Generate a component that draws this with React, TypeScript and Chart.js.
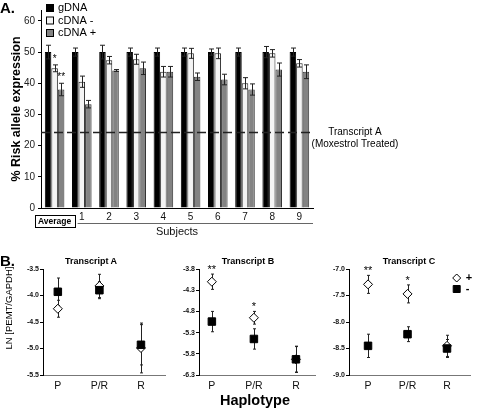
import React, { useEffect, useRef } from "react";
import { Chart, registerables } from "chart.js";

Chart.register(...registerables);

const FONT = "'Liberation Sans', Arial, Helvetica, sans-serif";

// ---------------- Panel A : allele expression bars ----------------
const subjects = ["Average", "1", "2", "3", "4", "5", "6", "7", "8", "9"];
const seriesNames = ["gDNA", "cDNA -", "cDNA +"];
const gDNA = [50, 50, 50, 50, 50, 50, 50, 50, 50, 50];
const gDNAErr = [2.2, 1.3, 2.2, 1.3, 1.3, 1.3, 1.0, 1.3, 1.8, 1.3];
const cDNAMinus = [44.8, 40.5, 47.4, 47.7, 43.7, 49.6, 49.6, 40.0, 49.6, 46.4];
const cDNAMinusErr = [1.1, 1.8, 1.2, 1.6, 1.7, 1.6, 1.7, 1.8, 1.2, 1.2];
const cDNAPlus = [38.0, 33.3, 44.1, 44.8, 43.7, 42.1, 41.2, 38.0, 44.4, 43.7];
const cDNAPlusErr = [2.0, 1.2, 0.3, 2.0, 1.7, 1.2, 1.7, 1.8, 2.1, 2.2];
const starsMinus = ["*", "", "", "", "", "", "", "", "", ""];
const starsPlus = ["**", "", "", "", "", "", "", "", "", ""];
const pctTicks = [0, 10, 20, 30, 40, 50, 60];
const pctMax = 63.5;
const transcriptALevel = 24.5;
const refLineLabels = ["Transcript A", "(Moxestrol Treated)"];

// ---------------- Panel B : LN[PEMT/GAPDH] by haplotype ----------------
const haplotypes = ["P", "P/R", "R"];
const legendB = ["+", "-"];
// Transcript A
const aPlus = [-4.25, -3.82, -4.99];
const aPlusErr = [0.16, 0.22, 0.47];
const aMinus = [-3.93, -3.9, -4.93];
const aMinusErr = [0.26, 0.16, 0.38];
const aTicks = [-5.5, -5.0, -4.5, -4.0, -3.5];
const aStars = ["", "", ""];
// Transcript B
const bPlus = [-4.1, -4.95, -5.93];
const bPlusErr = [0.18, 0.15, 0.3];
const bMinus = [-5.04, -5.45, -5.93];
const bMinusErr = [0.24, 0.24, 0.31];
const bTicks = [-6.3, -5.8, -5.3, -4.8, -4.3, -3.8];
const bStars = ["**", "*", ""];
// Transcript C
const cPlus = [-7.29, -7.47, -8.45];
const cPlusErr = [0.17, 0.17, 0.2];
const cMinus = [-8.45, -8.23, -8.5];
const cMinusErr = [0.22, 0.14, 0.17];
const cTicks = [-9.0, -8.5, -8.0, -7.5, -7.0];
const cStars = ["**", "*", ""];

// ---------------- plugins ----------------
function valueOf(raw: any) {
  return typeof raw === "number" ? raw : raw.y;
}

function drawErrorBars(chart: any, o: any) {
  const { ctx } = chart;
  const ys = chart.scales.y;
  ctx.save();
  ctx.strokeStyle = o.color;
  ctx.lineWidth = o.width;
  chart.data.datasets.forEach((ds: any, i: number) => {
    if (!ds.errors) return;
    const meta = chart.getDatasetMeta(i);
    meta.data.forEach((el: any, j: number) => {
      const v = valueOf(ds.data[j]);
      const e = ds.errors[j];
      if (!e) return;
      const x = Math.round(el.x) + 0.5;
      const y1 = ys.getPixelForValue(v + e);
      const y2 = ys.getPixelForValue(v - e);
      ctx.beginPath();
      ctx.moveTo(x, y1);
      ctx.lineTo(x, y2);
      ctx.moveTo(x - o.cap, y1);
      ctx.lineTo(x + o.cap, y1);
      ctx.moveTo(x - o.cap, y2);
      ctx.lineTo(x + o.cap, y2);
      ctx.stroke();
    });
  });
  ctx.restore();
}

function drawStars(chart: any, o: any) {
  const { ctx } = chart;
  const ys = chart.scales.y;
  ctx.save();
  ctx.fillStyle = "#000";
  ctx.font = `${o.starSize || 10}px ${FONT}`;
  ctx.textAlign = "center";
  ctx.textBaseline = "middle";
  chart.data.datasets.forEach((ds: any, i: number) => {
    if (!ds.stars) return;
    const meta = chart.getDatasetMeta(i);
    meta.data.forEach((el: any, j: number) => {
      const s = ds.stars[j];
      if (!s) return;
      const v = valueOf(ds.data[j]);
      const e = ds.errors ? ds.errors[j] : 0;
      const y = ys.getPixelForValue(v + e) - (o.starGap || 5);
      ctx.fillText(s, el.x, y);
    });
  });
  ctx.restore();
}

const errorBarsPlugin = {
  id: "errorBars",
  beforeDatasetsDraw(chart: any, _a: any, o: any) {
    if (o.phase === "before") drawErrorBars(chart, o);
  },
  afterDatasetsDraw(chart: any, _a: any, o: any) {
    if (o.phase !== "before") drawErrorBars(chart, o);
    drawStars(chart, o);
  },
};

const barExtrasPlugin = {
  id: "barExtras",
  afterDatasetsDraw(chart: any) {
    const { ctx, chartArea } = chart;
    const ys = chart.scales.y;
    const xs = chart.scales.x;
    // reference line
    const ly = Math.round(ys.getPixelForValue(transcriptALevel)) + 0.5;
    ctx.save();
    ctx.strokeStyle = "#222";
    ctx.lineWidth = 1.5;
    ctx.setLineDash([9, 4]);
    ctx.beginPath();
    ctx.moveTo(chartArea.left, ly);
    ctx.lineTo(chartArea.right, ly);
    ctx.stroke();
    ctx.setLineDash([]);
    ctx.fillStyle = "#000";
    ctx.font = `10px ${FONT}`;
    ctx.textAlign = "center";
    ctx.textBaseline = "middle";
    const tx = chartArea.right + 42;
    ctx.fillText(refLineLabels[0], tx, ly);
    ctx.fillText(refLineLabels[1], tx, ly + 12);
    // legend
    chart.data.datasets.forEach((ds: any, i: number) => {
      const y = 4 + i * 12.5;
      ctx.fillStyle = ds.backgroundColor;
      ctx.fillRect(46, y, 7, 7);
      ctx.strokeStyle = "#000";
      ctx.lineWidth = 1;
      ctx.strokeRect(46.5, y + 0.5, 7, 7);
      ctx.fillStyle = "#000";
      ctx.font = `11px ${FONT}`;
      ctx.textAlign = "left";
      ctx.fillText(ds.label, 58, y + 4);
    });
    // "Average" box and subjects underline
    const ax = xs.getPixelForTick(0);
    const by = chartArea.bottom + 7;
    ctx.font = `bold 8.5px ${FONT}`;
    ctx.textAlign = "center";
    ctx.fillText(subjects[0], ax, by + 6.5);
    ctx.strokeStyle = "#000";
    ctx.lineWidth = 1;
    ctx.strokeRect(Math.round(ax - 20) + 0.5, by + 0.5, 40, 12);
    ctx.strokeStyle = "#666";
    ctx.beginPath();
    ctx.moveTo(ax + 23, by + 8.5);
    ctx.lineTo(chartArea.right, by + 8.5);
    ctx.stroke();
    ctx.restore();
  },
};

const scatterLegendPlugin = {
  id: "scatterLegend",
  afterDraw(chart: any, _a: any, o: any) {
    if (!o || !o.show) return;
    const { ctx, chartArea } = chart;
    const x = chartArea.right - 14;
    ctx.save();
    chart.data.datasets.forEach((ds: any, i: number) => {
      const y = chartArea.top + 9 + i * 11;
      ctx.beginPath();
      if (ds.pointStyle === "rectRot") {
        ctx.moveTo(x, y - 4);
        ctx.lineTo(x + 4, y);
        ctx.lineTo(x, y + 4);
        ctx.lineTo(x - 4, y);
        ctx.closePath();
      } else {
        ctx.rect(x - 3.5, y - 3.5, 7, 7);
      }
      ctx.fillStyle = ds.backgroundColor;
      ctx.fill();
      ctx.strokeStyle = "#000";
      ctx.lineWidth = 1;
      ctx.stroke();
      ctx.fillStyle = "#000";
      ctx.font = `bold 11px ${FONT}`;
      ctx.textAlign = "left";
      ctx.textBaseline = "middle";
      ctx.fillText(ds.label, x + 9, y);
    });
    ctx.restore();
  },
};

// ---------------- configs ----------------
function makeBarConfig(): any {
  return {
    type: "bar",
    data: {
      labels: subjects,
      datasets: [
        { label: seriesNames[0], data: gDNA, errors: gDNAErr, backgroundColor: "#000", borderColor: "#000", borderWidth: 1 },
        { label: seriesNames[1], data: cDNAMinus, errors: cDNAMinusErr, stars: starsMinus, backgroundColor: "#f4f4f4", borderColor: "#222", borderWidth: 1 },
        { label: seriesNames[2], data: cDNAPlus, errors: cDNAPlusErr, stars: starsPlus, backgroundColor: "#838383", borderColor: "#333", borderWidth: 1 },
      ],
    },
    plugins: [errorBarsPlugin, barExtrasPlugin],
    options: {
      animation: false,
      responsive: false,
      events: [],
      layout: { padding: { left: 5, top: 10, right: 164, bottom: 0 } },
      datasets: { bar: { categoryPercentage: 0.72, barPercentage: 1.0 } },
      plugins: {
        legend: { display: false },
        tooltip: { enabled: false },
        errorBars: { phase: "after", cap: 2.5, color: "#222", width: 1, starSize: 10, starGap: 6 },
      },
      scales: {
        x: {
          grid: { display: false, drawTicks: false },
          border: { display: true, color: "#000", width: 1 },
          ticks: {
            padding: 3,
            color: "#111",
            font: { family: FONT, size: 10 },
            callback: (_v: any, i: number) => (i === 0 ? "" : subjects[i]),
          },
          title: {
            display: true,
            text: "Subjects",
            color: "#111",
            font: { family: FONT, size: 11 },
            padding: { top: 0, bottom: 1 },
          },
          afterFit: (s: any) => {
            s.height = 32;
          },
        },
        y: {
          min: 0,
          max: pctMax,
          afterBuildTicks: (s: any) => {
            s.ticks = pctTicks.map((v) => ({ value: v }));
          },
          grid: { display: true, drawOnChartArea: false, drawTicks: true, tickLength: 3, color: "#000" },
          border: { display: true, color: "#000", width: 1 },
          ticks: { padding: 3, color: "#222", font: { family: FONT, size: 10 } },
          title: {
            display: true,
            text: "% Risk allele expression",
            color: "#000",
            font: { family: FONT, size: 12.5, weight: "bold" },
            padding: { top: 4, bottom: 0 },
          },
          afterFit: (s: any) => {
            s.width = 36;
          },
        },
      },
    },
  };
}

function makeScatterConfig(
  plus: number[],
  plusErr: number[],
  minus: number[],
  minusErr: number[],
  stars: string[],
  ticks: number[],
  xMin: number,
  xMax: number,
  yWidth: number,
  padRight: number,
  showLegend: boolean
): any {
  return {
    type: "scatter",
    data: {
      datasets: [
        {
          label: legendB[0],
          data: plus.map((v, i) => ({ x: i + 1, y: v })),
          errors: plusErr,
          stars,
          pointStyle: "rectRot",
          pointRadius: 4.5,
          backgroundColor: "#fff",
          borderColor: "#000",
          borderWidth: 1,
          order: 2,
        },
        {
          label: legendB[1],
          data: minus.map((v, i) => ({ x: i + 1, y: v })),
          errors: minusErr,
          pointStyle: "rect",
          pointRadius: 5.3,
          backgroundColor: "#000",
          borderColor: "#000",
          borderWidth: 1,
          order: 1,
        },
      ],
    },
    plugins: [errorBarsPlugin, scatterLegendPlugin],
    options: {
      animation: false,
      responsive: false,
      events: [],
      layout: { padding: { left: 0, top: 27, right: padRight, bottom: 0 } },
      plugins: {
        legend: { display: false },
        tooltip: { enabled: false },
        errorBars: { phase: "before", cap: 1.5, color: "#222", width: 1, starSize: 11, starGap: 4 },
        scatterLegend: { show: showLegend },
      },
      scales: {
        x: {
          type: "linear",
          min: xMin,
          max: xMax,
          afterBuildTicks: (s: any) => {
            s.ticks = haplotypes.map((_h, i) => ({ value: i + 1 }));
          },
          grid: { display: false, drawTicks: false },
          border: { display: true, color: "#777", width: 1 },
          ticks: {
            padding: 5,
            color: "#111",
            font: { family: FONT, size: 10.5 },
            callback: (v: any) => haplotypes[Math.round(v) - 1] ?? "",
          },
          afterFit: (s: any) => {
            s.height = 33;
          },
        },
        y: {
          min: ticks[0],
          max: ticks[ticks.length - 1],
          afterBuildTicks: (s: any) => {
            s.ticks = ticks.map((v) => ({ value: v }));
          },
          grid: { display: true, drawOnChartArea: false, drawTicks: true, tickLength: 3, color: "#000" },
          border: { display: true, color: "#000", width: 1 },
          ticks: {
            padding: 1,
            color: "#111",
            font: { family: FONT, size: 7, weight: "bold" },
            callback: (v: any) => Number(v).toFixed(1),
          },
          afterFit: (s: any) => {
            s.width = yWidth;
          },
        },
      },
    },
  };
}

// ---------------- components ----------------
function ChartBox(props: { make: () => any; left: number; top: number; width: number; height: number }) {
  const ref = useRef<HTMLCanvasElement>(null);
  useEffect(() => {
    const chart = new Chart(ref.current as HTMLCanvasElement, props.make());
    return () => chart.destroy();
  }, []);
  return (
    <canvas
      ref={ref}
      width={props.width}
      height={props.height}
      style={{ position: "absolute", left: props.left, top: props.top, width: props.width, height: props.height }}
    />
  );
}

function Txt(props: { x: number; y: number; size: number; bold?: boolean; rotate?: boolean; align?: string; children: any }) {
  const tx = props.align === "left" ? "0" : "-50%";
  return (
    <div
      style={{
        position: "absolute",
        left: props.x,
        top: props.y,
        transform: `translate(${tx}, -50%)${props.rotate ? " rotate(-90deg)" : ""}`,
        transformOrigin: props.rotate ? "50% 50%" : undefined,
        fontFamily: FONT,
        fontSize: props.size,
        fontWeight: props.bold ? "bold" : "normal",
        lineHeight: 1,
        whiteSpace: "nowrap",
        color: "#000",
      }}
    >
      {props.children}
    </div>
  );
}

export default function App() {
  return (
    <div
      style={{
        position: "fixed",
        left: 0,
        top: 0,
        width: 477,
        height: 408,
        background: "#fff",
        overflow: "hidden",
      }}
    >
      <ChartBox make={makeBarConfig} left={0} top={0} width={477} height={240} />
      <ChartBox
        make={() => makeScatterConfig(aPlus, aPlusErr, aMinus, aMinusErr, aStars, aTicks, 0.643, 3.595, 43, 5, false)}
        left={0}
        top={242}
        width={172}
        height={166}
      />
      <ChartBox
        make={() => makeScatterConfig(bPlus, bPlusErr, bMinus, bMinusErr, bStars, bTicks, 0.694, 3.47, 27, 5, false)}
        left={172}
        top={242}
        width={150}
        height={166}
      />
      <ChartBox
        make={() => makeScatterConfig(cPlus, cPlusErr, cMinus, cMinusErr, cStars, cTicks, 0.518, 3.6, 27, 0, true)}
        left={322}
        top={242}
        width={155}
        height={166}
      />
      <Txt x={0} y={7} size={15} bold align="left">A.</Txt>
      <Txt x={0} y={260} size={15} bold align="left">B.</Txt>
      <Txt x={91} y={261} size={9} bold>Transcript A</Txt>
      <Txt x={248} y={261} size={9} bold>Transcript B</Txt>
      <Txt x={409} y={261} size={9} bold>Transcript C</Txt>
      <Txt x={9} y={308} size={9.5} rotate>LN [PEMT/GAPDH]</Txt>
      <Txt x={255} y={400} size={14.5} bold>Haplotype</Txt>
    </div>
  );
}
